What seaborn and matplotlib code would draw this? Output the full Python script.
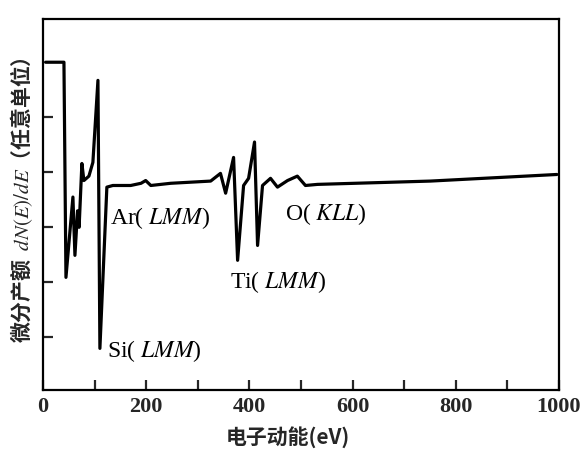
import numpy as np
import pandas as pd
import matplotlib
matplotlib.use("Agg")
import matplotlib.pyplot as plt
import seaborn as sns

# Auger spectrum (energy in eV, dN(E)/dE in arbitrary units)
energy = [5, 40.6, 44.5, 58.0, 61.9, 67.0, 70.0, 75.4, 79.3, 89.0, 96.7,
          106.5, 110.3, 123.8, 135.4, 170.0, 190.0, 199.0, 209.0, 247.6,
          325.0, 344.0, 354.0, 369.4, 377.2, 388.8, 398.5, 410.0, 415.9,
          425.5, 441.0, 454.5, 474.0, 493.0, 508.7, 532.0, 750.5, 996.0]
signal = [6.0, 6.0, 2.09, 3.55, 2.49, 3.3, 3.0, 4.16, 3.85, 3.93, 4.18,
          5.67, 0.80, 3.73, 3.76, 3.76, 3.80, 3.85, 3.76, 3.80,
          3.84, 3.98, 3.62, 4.27, 2.40, 3.76, 3.89, 4.55, 2.67,
          3.76, 3.89, 3.73, 3.85, 3.93, 3.76, 3.78, 3.84, 3.96]

peak_labels = ["Ar(", "Si(", "Ti(", "O("]
peak_terms = ["LMM", "LMM", "LMM", "KLL"]
label_x = [129, 125, 362, 469]
label_y = [3.16, 0.76, 2.0, 3.25]

x_ticks = [0, 100, 200, 300, 400, 500, 600, 700, 800, 900, 1000]
x_ticklabels = ["0", "", "200", "", "400", "", "600", "", "800", "", "1000"]
y_ticks = [1, 2, 3, 4, 5]

sns.set_style("ticks")
plt.rcParams["font.family"] = ["Liberation Serif", "Noto Sans CJK SC"]
plt.rcParams["mathtext.fontset"] = "stix"

df = pd.DataFrame({"energy": energy, "signal": signal})

fig = plt.figure(figsize=(5.81, 4.49), dpi=100)
ax = fig.add_axes([0.074, 0.131, 0.888, 0.826])
sns.lineplot(data=df, x="energy", y="signal", sort=False, estimator=None,
             color="black", linewidth=2.3, ax=ax)

ax.set_xlim(0, 1000)
ax.set_ylim(0.04, 6.78)
ax.set_xticks(x_ticks)
ax.set_xticklabels(x_ticklabels, fontsize=16, fontweight="bold")
ax.set_yticks(y_ticks)
ax.set_yticklabels([])
ax.tick_params(direction="in", length=7, width=1.6, pad=5)
for s in ax.spines.values():
    s.set_linewidth(1.6)
    s.set_color("black")
ax.set_xlabel("")
ax.set_ylabel("")

for name, term, lx, ly in zip(peak_labels, peak_terms, label_x, label_y):
    ax.text(lx, ly, name + " $" + term + "$)", fontsize=17, va="center",
            ha="left", color="black")

fig.text(22 / 581, 1 - 200 / 449,
         "微分产额  $dN(E)/dE$（任意单位）", rotation=90, ha="center",
         va="center", fontsize=15, fontweight="bold",
         family=["Noto Sans CJK SC", "DejaVu Sans"])
fig.text(288 / 581, 1 - 437 / 449, "电子动能(eV)", ha="center", va="center",
         fontsize=15, fontweight="bold",
         family=["Noto Sans CJK SC", "DejaVu Sans"])

fig.savefig("out.png", dpi=100)
